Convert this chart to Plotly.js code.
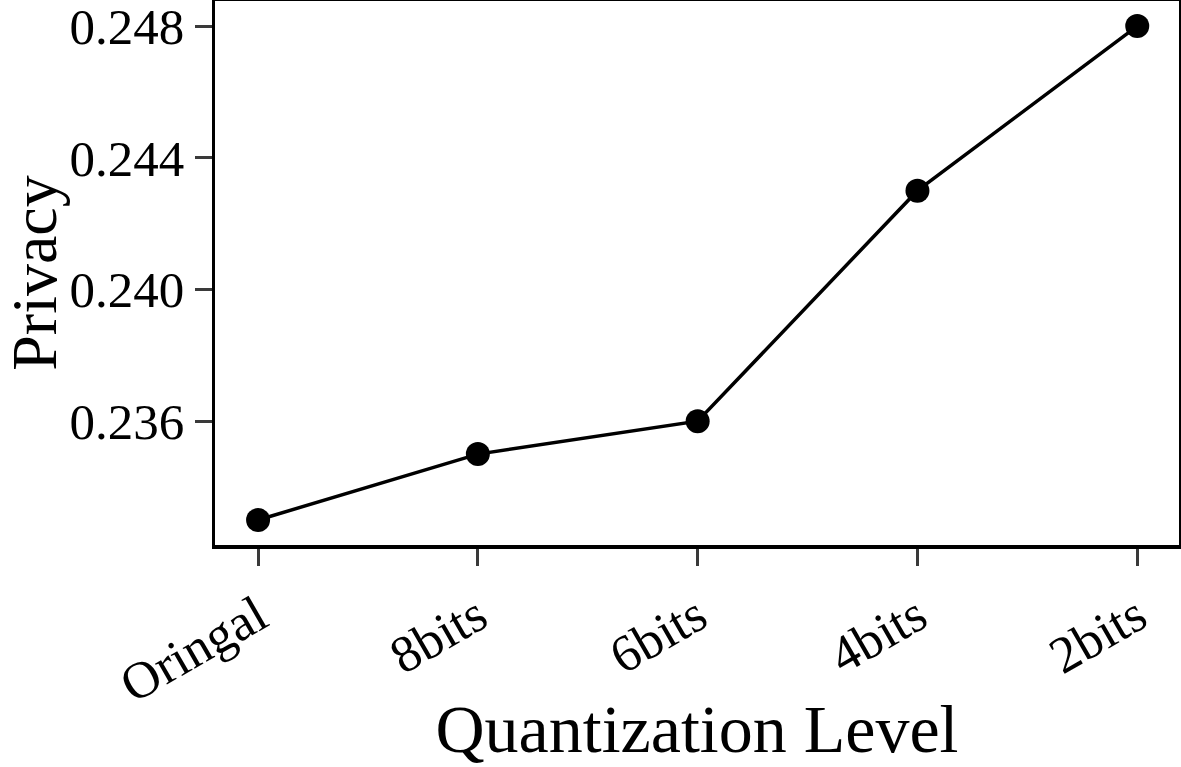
<!DOCTYPE html>
<html>
<head>
<meta charset="utf-8">
<script src="https://cdn.plot.ly/plotly-3.0.1.min.js"></script>
<style>
  html, body { margin: 0; padding: 0; background: #fff; }
  #chart { width: 1181px; height: 767px; }
</style>
</head>
<body>
<div id="chart"></div>
<script>
const levels = ['Oringal', '8bits', '6bits', '4bits', '2bits'];
const privacy = [0.233, 0.235, 0.236, 0.243, 0.248];
const yTicks = [0.236, 0.240, 0.244, 0.248];

const serif = '"Liberation Serif", "DejaVu Serif", serif';

const trace = {
    x: levels,
    y: privacy,
    type: 'scatter',
    mode: 'lines+markers',
    line: { color: '#000', width: 3.5 },
    marker: { color: '#000', size: 24 },
    showlegend: false
};

const layout = {
    width: 1181,
    height: 767,
    margin: { l: 215, r: 2, t: 1, b: 222 },
    paper_bgcolor: '#fff',
    plot_bgcolor: '#fff',
    font: { family: serif, color: '#000' },
    xaxis: {
        type: 'category',
        range: [-0.196, 4.19],
        showgrid: false,
        zeroline: false,
        showline: true,
        mirror: true,
        linecolor: '#000',
        linewidth: 3.5,
        ticks: 'outside',
        ticklen: 17,
        tickwidth: 3,
        tickcolor: '#3a3a3a',
        tickangle: -30,
        tickfont: { size: 52, family: serif },
        title: { text: 'Quantization Level', font: { size: 68, family: serif }, standoff: 16 }
    },
    yaxis: {
        range: [0.23224, 0.24876],
        tickvals: yTicks,
        tickformat: '.3f',
        ticklabeloverflow: 'allow',
        showgrid: false,
        zeroline: false,
        showline: true,
        mirror: true,
        linecolor: '#000',
        linewidth: 3.5,
        ticks: 'outside',
        ticklen: 17,
        tickwidth: 3,
        tickcolor: '#3a3a3a',
        tickfont: { size: 51, family: serif }
    },
    // y title as an annotation so it can sit further left than the margin clamp allows
    annotations: [{
        text: 'Privacy',
        textangle: -90,
        xref: 'paper', yref: 'paper',
        x: -0.188, y: 0.5,
        xanchor: 'center', yanchor: 'middle',
        showarrow: false,
        font: { size: 64, family: serif, color: '#000' }
    }]
};

Plotly.newPlot('chart', [trace], layout, { displayModeBar: false, staticPlot: true });
</script>
</body>
</html>
